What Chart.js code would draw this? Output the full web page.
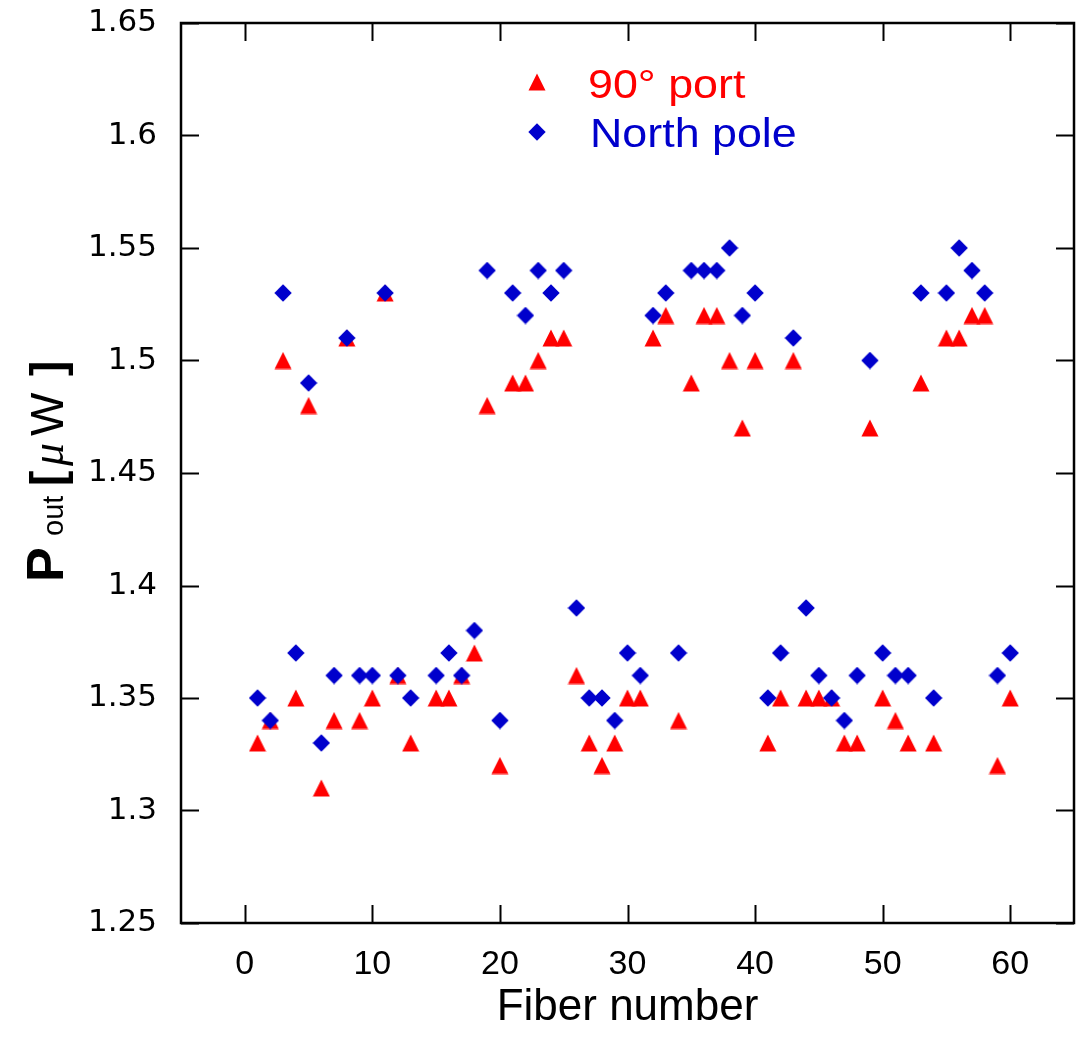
<!DOCTYPE html>
<html>
<head>
<meta charset="utf-8">
<script src="https://cdn.jsdelivr.net/npm/chart.js@4.4.1/dist/chart.umd.min.js"></script>
<style>
  html, body { margin: 0; padding: 0; background: #fff; }
  #wrap { width: 1084px; height: 1040px; position: relative; }
</style>
</head>
<body>
<div id="wrap"><canvas id="c" width="1084" height="1040"></canvas></div>
<script>
// ---- data ----
const fiberNumbers = [1,2,3,4,5,6,7,8,9,10,11,12,13,15,16,17,18,19,20,21,22,23,24,25,26,27,28,29,30,31,32,33,34,35,36,37,38,39,40,41,42,43,44,45,46,47,48,49,50,51,52,53,54,55,56,57,58,59,60];
const port90 = [1.33,1.34,1.50,1.35,1.48,1.31,1.34,1.51,1.34,1.35,1.53,1.36,1.33,1.35,1.35,1.36,1.37,1.48,1.32,1.49,1.49,1.50,1.51,1.51,1.36,1.33,1.32,1.33,1.35,1.35,1.51,1.52,1.34,1.49,1.52,1.52,1.50,1.47,1.50,1.33,1.35,1.50,1.35,1.35,1.35,1.33,1.33,1.47,1.35,1.34,1.33,1.49,1.33,1.51,1.51,1.52,1.52,1.32,1.35];
const northPole = [1.35,1.34,1.53,1.37,1.49,1.33,1.36,1.51,1.36,1.36,1.53,1.36,1.35,1.36,1.37,1.36,1.38,1.54,1.34,1.53,1.52,1.54,1.53,1.54,1.39,1.35,1.35,1.34,1.37,1.36,1.52,1.53,1.37,1.54,1.54,1.54,1.55,1.52,1.53,1.35,1.37,1.51,1.39,1.36,1.35,1.34,1.36,1.50,1.37,1.36,1.36,1.53,1.35,1.53,1.55,1.54,1.53,1.36,1.37];
const xTicks = [0,10,20,30,40,50,60];
const yTicks = [1.25,1.3,1.35,1.4,1.45,1.5,1.55,1.6,1.65];
const yTickLabels = ['1.25','1.3','1.35','1.4','1.45','1.5','1.55','1.6','1.65'];
const seriesLabels = ['90° port', 'North pole'];
const xTitle = 'Fiber number';

const RED = '#ff0000';
const BLUE = '#0000cc';

function triangleImg(color) {
  const c = document.createElement('canvas');
  c.width = 18; c.height = 18;
  const g = c.getContext('2d');
  g.fillStyle = color;
  g.beginPath();
  g.moveTo(9, 0.5); g.lineTo(17.5, 17.5); g.lineTo(0.5, 17.5); g.closePath();
  g.fill();
  return c;
}
function diamondImg(color) {
  const c = document.createElement('canvas');
  c.width = 18; c.height = 18;
  const g = c.getContext('2d');
  g.fillStyle = color;
  g.beginPath();
  g.moveTo(9, 0.3); g.lineTo(17.7, 9); g.lineTo(9, 17.7); g.lineTo(0.3, 9); g.closePath();
  g.fill();
  return c;
}
const triImg = triangleImg(RED);
const diaImg = diamondImg(BLUE);

const redData = fiberNumbers.map((f, i) => ({x: f, y: port90[i]}));
const blueData = fiberNumbers.map((f, i) => ({x: f, y: northPole[i]}));

const framePlugin = {
  id: 'frame',
  afterDraw(chart) {
    const {ctx, chartArea: a, scales} = chart;
    ctx.save();
    ctx.strokeStyle = '#000';
    ctx.lineWidth = 2.5;
    ctx.strokeRect(a.left, a.top, a.right - a.left, a.bottom - a.top);
    ctx.lineWidth = 2;
    const tl = 18;
    ctx.beginPath();
    scales.x.ticks.forEach(t => {
      const px = Math.round(scales.x.getPixelForValue(t.value)) + 0.5;
      ctx.moveTo(px, a.bottom); ctx.lineTo(px, a.bottom - tl);
      ctx.moveTo(px, a.top); ctx.lineTo(px, a.top + tl);
    });
    scales.y.ticks.forEach(t => {
      const py = Math.round(scales.y.getPixelForValue(t.value)) + 0.5;
      ctx.moveTo(a.left, py); ctx.lineTo(a.left + tl, py);
      ctx.moveTo(a.right, py); ctx.lineTo(a.right - tl, py);
    });
    ctx.stroke();

    // legend
    ctx.drawImage(triImg, 537 - 9, 82 - 9);
    ctx.drawImage(diaImg, 537 - 9, 132 - 9);
    ctx.textBaseline = 'alphabetic';
    ctx.textAlign = 'left';
    ctx.font = '40px "Liberation Sans", Arial, sans-serif';
    ctx.fillStyle = RED;
    ctx.save(); ctx.translate(588, 98); ctx.scale(1.12, 1); ctx.fillText(seriesLabels[0], 0, 0); ctx.restore();
    ctx.fillStyle = BLUE;
    ctx.save(); ctx.translate(590, 147); ctx.scale(1.12, 1); ctx.fillText(seriesLabels[1], 0, 0); ctx.restore();

    // y title: P_out [μW]
    ctx.save();
    ctx.translate(63, 582);
    ctx.rotate(-Math.PI / 2);
    ctx.fillStyle = '#000';
    ctx.textBaseline = 'alphabetic';
    const parts = [
      {t: 'P', f: 'bold 52px "Liberation Sans", Arial, sans-serif', at: 0},
      {t: 'out', f: '29px "Liberation Sans", Arial, sans-serif', at: 46},
      {t: '[', f: 'bold 46px "Liberation Sans", Arial, sans-serif', at: 96},
      {t: 'μ', f: 'italic 46px "Liberation Serif", serif', at: 116},
      {t: 'W', f: '46px "Liberation Sans", Arial, sans-serif', at: 146},
      {t: ']', f: 'bold 46px "Liberation Sans", Arial, sans-serif', at: 206}
    ];
    parts.forEach(p => {
      ctx.font = p.f;
      ctx.fillText(p.t, p.at, 0);
    });
    ctx.restore();
    ctx.restore();
  }
};

function noLabelPadding(s) {
  s._calculatePadding = function () {
    this.paddingLeft = 0; this.paddingRight = 0; this.paddingTop = 0; this.paddingBottom = 0;
  };
}

const TARGET_RIGHT = 1081;
const ch = new Chart(document.getElementById('c'), {
  type: 'scatter',
  data: {
    datasets: [
      {label: seriesLabels[0], data: redData, pointStyle: triImg, pointRadius: 9, order: 2, backgroundColor: RED, borderColor: RED},
      {label: seriesLabels[1], data: blueData, pointStyle: diaImg, pointRadius: 9, order: 1, backgroundColor: BLUE, borderColor: BLUE}
    ]
  },
  options: {
    responsive: false,
    animation: false,
    events: [],
    layout: {padding: {top: 23, right: 3, left: 0, bottom: 0}},
    plugins: {legend: {display: false}, tooltip: {enabled: false}},
    scales: {
      x: {
        type: 'linear',
        min: -5, max: 65,
        beforeFit: noLabelPadding,
        afterBuildTicks: s => { s.ticks = xTicks.map(v => ({value: v})); },
        afterFit: s => { s.height = 117; s.paddingLeft = 0; s.paddingRight = 0; },
        grid: {display: false, drawTicks: false},
        border: {display: false},
        ticks: {color: '#000', padding: 21, font: {family: '"Liberation Sans", Arial, sans-serif', size: 34}},
        title: {display: true, text: xTitle, color: '#000', padding: {top: 0, bottom: 6}, font: {family: '"Liberation Sans", Arial, sans-serif', size: 44}}
      },
      y: {
        type: 'linear',
        min: 1.25, max: 1.65,
        beforeFit: noLabelPadding,
        afterBuildTicks: s => { s.ticks = yTicks.map(v => ({value: v})); },
        afterFit: s => { s.width = 181; s.paddingTop = 0; s.paddingBottom = 0; s.paddingLeft = 0; s.paddingRight = 0; },
        grid: {display: false, drawTicks: false},
        border: {display: false},
        ticks: {
          color: '#000', padding: 24,
          font: {family: '"DejaVu Sans", sans-serif', size: 31},
          callback: (v) => { const i = yTicks.findIndex(t => Math.abs(t - v) < 1e-9); return i >= 0 ? yTickLabels[i] : ''; }
        }
      }
    }
  },
  plugins: [framePlugin]
});
// fallback: nudge layout padding so the plot frame ends at the target edge
for (let k = 0; k < 4; k++) {
  const d = ch.chartArea.right - TARGET_RIGHT;
  if (Math.abs(d) < 0.5) break;
  const pad = ch.config.options.layout.padding;
  pad.right = pad.right + d;
  ch.update('none');
}
</script>
</body>
</html>
